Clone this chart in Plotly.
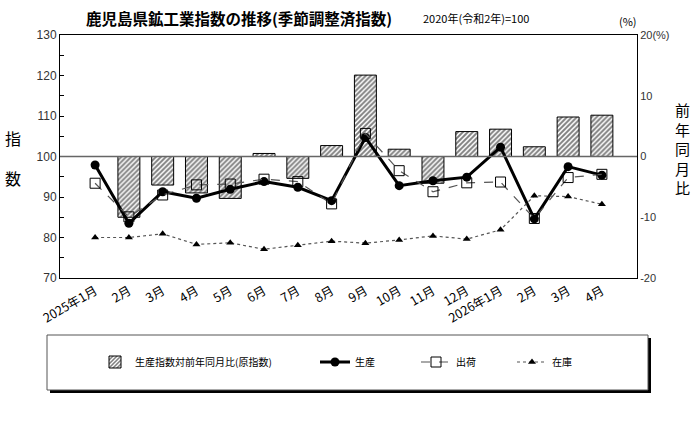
import plotly.graph_objects as go

months = ["2025-01","2025-02","2025-03","2025-04","2025-05","2025-06","2025-07","2025-08",
          "2025-09","2025-10","2025-11","2025-12","2026-01","2026-02","2026-03","2026-04"]
tick_labels = ["2025年1月","2月","3月","4月","5月","6月","7月","8月","9月","10月","11月","12月",
               "2026年1月","2月","3月","4月"]
yoy_pct = [0.0, -10.0, -4.7, -6.0, -6.9, 0.5, -3.6, 1.8, 13.4, 1.2, -4.4, 4.1, 4.5, 1.6, 6.5, 6.8]
production = [97.9, 83.5, 91.3, 89.7, 91.9, 93.8, 92.4, 89.1, 104.7, 92.8, 94.0, 94.9, 102.3, 84.6, 97.5, 95.4]
shipments = [93.4, 85.1, 90.5, 93.0, 93.2, 94.4, 93.8, 88.3, 105.7, 96.5, 91.3, 93.5, 93.7, 84.7, 94.8, 95.6]
inventory = [80.0, 80.0, 80.9, 78.3, 78.7, 77.1, 78.1, 79.1, 78.6, 79.4, 80.4, 79.6, 81.9, 90.3, 90.1, 88.2]
right_ticks = [-20, -10, 0, 10, 20]
right_ticktext = ["-20", "-10", "0", "10", "20(%)"]

FONT = "Liberation Sans, Noto Sans CJK JP, sans-serif"
JP = "Noto Sans CJK JP, sans-serif"

# plot-area pixel geometry helpers (plot area: x 60..637, y 35..278)
def px(x):
    return (x - 60) / 577

def py(y):
    return (278 - y) / 243

fig = go.Figure()
fig.add_trace(go.Bar(
    x=months, y=yoy_pct, yaxis="y", name="生産指数対前年同月比(原指数)", legend="legend",
    width=0.65,
    marker=dict(color="white", line=dict(color="black", width=1),
                pattern=dict(shape="/", fgcolor="black", bgcolor="white", size=3.5, solidity=0.55)),
))
fig.add_trace(go.Scatter(
    x=months, y=production, yaxis="y2", name="生産", mode="lines+markers", legend="legend2",
    line=dict(color="black", width=3),
    marker=dict(symbol="circle", size=9, color="black"),
))
fig.add_trace(go.Scatter(
    x=months, y=shipments, yaxis="y2", name="出荷", mode="lines+markers", legend="legend3",
    line=dict(color="#555555", width=1.2, dash="dash"),
    marker=dict(symbol="square-open", size=10, color="black", line=dict(width=1)),
))
fig.add_trace(go.Scatter(
    x=months, y=inventory, yaxis="y2", name="在庫", mode="lines+markers", legend="legend4",
    line=dict(color="#555555", width=1.2, dash="dot"),
    marker=dict(symbol="triangle-up", size=7, color="black"),
))

leg_common = dict(orientation="h", xanchor="left", yanchor="middle", y=py(362),
                  font=dict(family=JP, size=10), bgcolor="rgba(0,0,0,0)", borderwidth=0)

fig.update_layout(
    width=700, height=422,
    margin=dict(l=60, r=63, t=35, b=144),
    paper_bgcolor="white", plot_bgcolor="white",
    font=dict(family=FONT, size=12, color="black"),
    showlegend=True,
    legend=dict(x=px(95), **leg_common),
    legend2=dict(x=px(315), **leg_common),
    legend3=dict(x=px(416), **leg_common),
    legend4=dict(x=px(512), **leg_common),
    bargap=0.35,
    xaxis=dict(type="category", categoryorder="array", categoryarray=months,
               tickvals=months, ticktext=tick_labels, tickangle=-30,
               tickfont=dict(family=JP, size=12.5),
               showline=True, linecolor="black", linewidth=1, mirror=True,
               ticks="", showgrid=False),
    yaxis=dict(range=[-20, 20], side="right", tickvals=right_ticks, ticktext=right_ticktext,
               tickfont=dict(size=11, color="#333333"), showgrid=False, zeroline=False,
               showline=True, linecolor="black", linewidth=1, ticks=""),
    yaxis2=dict(range=[70, 130], side="left", overlaying="y", dtick=10,
                tickfont=dict(size=12, color="#333333"), showgrid=False, zeroline=False,
                showline=True, linecolor="black", linewidth=1,
                ticks="inside", ticklen=4, tickcolor="black",
                minor=dict(dtick=5, ticks="inside", ticklen=4, tickcolor="black")),
)

# zero / 100 reference line
fig.add_shape(type="line", xref="paper", x0=0, x1=1, yref="y", y0=0, y1=0,
              line=dict(color="#666666", width=1.5), layer="above")

# legend frame with shadow
fig.add_shape(type="rect", xref="paper", yref="paper",
              x0=px(50), x1=px(651), y0=py(393), y1=py(338),
              line=dict(width=0), fillcolor="black", layer="below")
fig.add_shape(type="rect", xref="paper", yref="paper",
              x0=px(47), x1=px(648), y0=py(390), y1=py(335),
              line=dict(color="#555555", width=1), fillcolor="white", layer="below")

annots = [
    dict(text="<b>鹿児島県鉱工業指数の推移(季節調整済指数)</b>", x=239, y=18, size=15.5),
    dict(text="2020年(令和2年)=100", x=476, y=18, size=11),
    dict(text="(%)", x=628, y=21, size=11),
    dict(text="指", x=13, y=138, size=16),
    dict(text="数", x=13, y=178, size=16),
    dict(text="前<br>年<br>同<br>月<br>比", x=682, y=148, size=15),
]
for a in annots:
    fig.add_annotation(text=a["text"], showarrow=False, xref="paper", yref="paper",
                       x=px(a["x"]), y=py(a["y"]),
                       xanchor="center", yanchor="middle",
                       font=dict(family=JP, size=a["size"], color="black"))

fig.write_html("out.html")
